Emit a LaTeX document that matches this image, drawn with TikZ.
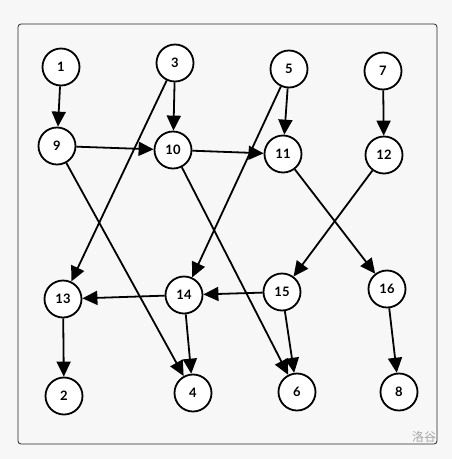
\documentclass[tikz,border=0pt]{standalone}
\usepackage{fontspec}
\setmainfont{Lato}
\newfontfamily\cjk{Noto Sans CJK SC}
\usetikzlibrary{arrows.meta}
\definecolor{bg}{HTML}{F7F7F7}
\begin{document}
\begin{tikzpicture}[x=1pt,y=-1pt,
  vert/.style={circle,draw=black,fill=white,line width=1.8pt,minimum size=37pt,inner sep=0pt,font=\bfseries\fontsize{13}{13}\selectfont},
  edge/.style={line width=1.8pt,-{Triangle[length=15pt,width=14pt]}}]
\fill[bg] (0,0) rectangle (452,459);
\useasboundingbox (0,0) rectangle (452,459);
\draw[line width=0.8pt,rounded corners=3pt,draw=black!85] (18,24) rectangle (437,444);
\node[vert] (n1) at (61,67) {1};
\node[vert] (n3) at (175,63) {3};
\node[vert] (n5) at (289,69) {5};
\node[vert] (n7) at (383,71) {7};
\node[vert] (n9) at (57,146) {9};
\node[vert] (n10) at (173,150) {10};
\node[vert] (n11) at (283,154) {11};
\node[vert] (n12) at (384,155) {12};
\node[vert] (n13) at (63,299) {13};
\node[vert] (n14) at (184,295) {14};
\node[vert] (n15) at (282,292) {15};
\node[vert] (n16) at (387,289) {16};
\node[vert] (n2) at (64,396) {2};
\node[vert] (n4) at (193,393) {4};
\node[vert] (n6) at (297,392) {6};
\node[vert] (n8) at (399,392) {8};
\draw[edge] (n1) -- (n9);
\draw[edge] (n3) -- (n10);
\draw[edge] (n3) -- (n13);
\draw[edge] (n5) -- (n11);
\draw[edge] (n5) -- (n14);
\draw[edge] (n7) -- (n12);
\draw[edge] (n9) -- (n10);
\draw[edge] (n9) -- (n4);
\draw[edge] (n10) -- (n11);
\draw[edge] (n10) -- (n6);
\draw[edge] (n11) -- (n16);
\draw[edge] (n12) -- (n15);
\draw[edge] (n14) -- (n13);
\draw[edge] (n14) -- (n4);
\draw[edge] (n15) -- (n14);
\draw[edge] (n15) -- (n6);
\draw[edge] (n13) -- (n2);
\draw[edge] (n16) -- (n8);
\node[text=black!35,font=\cjk\fontsize{12}{12}\selectfont] (wm) at (424,437) {洛谷};
\end{tikzpicture}
\end{document}
